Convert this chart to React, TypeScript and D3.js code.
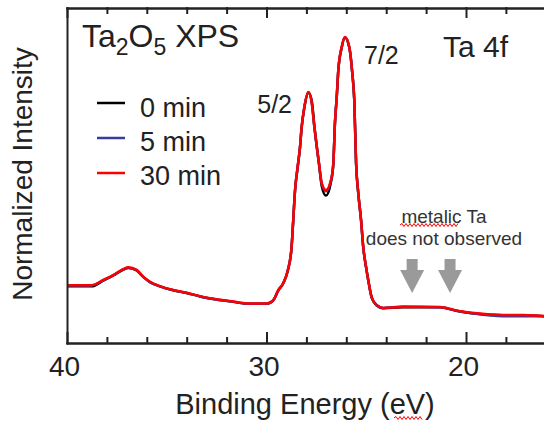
import React, { useEffect, useRef } from "react";
import * as d3 from "d3";

// binding energy (eV) of each sample point
const energy = [
  40.0, 39.76, 38.76, 38.18, 37.68, 37.26, 36.93, 36.51, 36.18, 35.84, 35.34,
  34.67, 34.0, 33.33, 32.5, 31.66, 30.99, 29.99, 29.66, 29.41, 29.16, 28.95,
  28.75, 28.66, 28.57, 28.44, 28.32, 28.24, 28.11, 27.9, 27.73, 27.6, 27.48,
  27.37, 27.23, 27.02, 26.77, 26.65, 26.57, 26.48, 26.4, 26.23, 26.07, 25.85,
  25.7, 25.6, 25.51, 25.4, 25.26, 25.15, 25.01, 24.9, 24.73, 24.48, 24.16,
  23.16, 21.3, 20.55, 19.71, 18.15, 17.14, 16.09, 15.0,
];

const min0 = [
  0.186, 0.186, 0.186, 0.205, 0.222, 0.238, 0.247, 0.238, 0.217, 0.2, 0.186,
  0.173, 0.164, 0.153, 0.143, 0.135, 0.129, 0.129, 0.14, 0.172, 0.196, 0.233,
  0.308, 0.402, 0.5, 0.576, 0.642, 0.706, 0.77, 0.822, 0.795, 0.712, 0.646,
  0.588, 0.515, 0.484, 0.528, 0.588, 0.72, 0.806, 0.895, 0.97, 1.003, 0.97,
  0.886, 0.797, 0.59, 0.492, 0.403, 0.314, 0.249, 0.206, 0.15, 0.124, 0.114,
  0.117, 0.117, 0.107, 0.098, 0.091, 0.091, 0.088, 0.086,
];

const min5 = [
  0.189, 0.189, 0.189, 0.206, 0.222, 0.239, 0.246, 0.239, 0.217, 0.2, 0.186,
  0.173, 0.164, 0.153, 0.143, 0.135, 0.129, 0.129, 0.14, 0.173, 0.196, 0.234,
  0.309, 0.403, 0.501, 0.577, 0.643, 0.708, 0.771, 0.823, 0.787, 0.708, 0.643,
  0.59, 0.522, 0.498, 0.533, 0.59, 0.721, 0.807, 0.896, 0.971, 1.004, 0.971,
  0.886, 0.797, 0.59, 0.492, 0.403, 0.314, 0.249, 0.206, 0.15, 0.124, 0.115,
  0.12, 0.117, 0.107, 0.098, 0.088, 0.088, 0.088, 0.086,
];

const min30 = [
  0.19, 0.19, 0.19, 0.207, 0.223, 0.24, 0.249, 0.24, 0.218, 0.201, 0.187,
  0.174, 0.165, 0.154, 0.144, 0.136, 0.13, 0.13, 0.141, 0.174, 0.197, 0.235,
  0.31, 0.404, 0.502, 0.578, 0.644, 0.709, 0.772, 0.824, 0.788, 0.709, 0.644,
  0.591, 0.525, 0.502, 0.535, 0.591, 0.722, 0.808, 0.897, 0.972, 1.005, 0.972,
  0.887, 0.798, 0.591, 0.493, 0.404, 0.315, 0.25, 0.207, 0.151, 0.125, 0.115,
  0.118, 0.118, 0.108, 0.099, 0.092, 0.092, 0.089, 0.087,
];

const series = [
  { label: "0 min", values: min0, color: "#000000" },
  { label: "5 min", values: min5, color: "#3b3b9e" },
  { label: "30 min", values: min30, color: "#ff0000" },
];

const majorTicks = [40, 30, 20];
const minorTicks = [38, 36, 34, 32, 28, 26, 24, 22, 18, 16];
const arrowEnergies = [22.7, 20.8];

const FONT = "'Liberation Sans', Arial, Helvetica, sans-serif";
const INK = "#222";

function wavy(x0: number, x1: number, yy: number) {
  let d = `M${x0},${yy}`;
  let up = true;
  for (let xx = x0 + 2; xx <= x1; xx += 2) {
    d += ` L${xx},${yy + (up ? -1.5 : 1.5)}`;
    up = !up;
  }
  return d;
}

export default function App() {
  const bottomRef = useRef<SVGGElement>(null);
  const topRef = useRef<SVGGElement>(null);
  const leftRef = useRef<SVGGElement>(null);

  const x = d3.scaleLinear().domain([40, 15]).range([67, 67 + 25 * 19.95]);
  const y = d3.scaleLinear().domain([0, 1.1]).range([343, 8]);

  const lineGen = d3
    .line<number>()
    .x((d, i) => x(energy[i]))
    .y((d) => y(d))
    .curve(d3.curveMonotoneX);

  useEffect(() => {
    const bottom = d3.select(bottomRef.current);
    bottom.selectAll("*").remove();
    bottom
      .append("g")
      .call(
        d3
          .axisBottom(x)
          .tickValues(minorTicks)
          .tickSizeInner(-5)
          .tickSizeOuter(0)
          .tickFormat(() => "")
      );
    const major = bottom
      .append("g")
      .call(
        d3
          .axisBottom(x)
          .tickValues(majorTicks)
          .tickSizeInner(-10)
          .tickSizeOuter(0)
          .tickPadding(13)
          .tickFormat(d3.format("d"))
      );
    major
      .selectAll("text")
      .attr("font-size", 28)
      .attr("font-family", FONT)
      .attr("fill", INK)
      .attr("dx", -3);

    const topAxis = d3.select(topRef.current);
    topAxis.selectAll("*").remove();
    topAxis
      .append("g")
      .call(
        d3
          .axisTop(x)
          .tickValues(minorTicks)
          .tickSizeInner(-5)
          .tickSizeOuter(0)
          .tickFormat(() => "")
      );
    topAxis
      .append("g")
      .call(
        d3
          .axisTop(x)
          .tickValues(majorTicks)
          .tickSizeInner(-9)
          .tickSizeOuter(0)
          .tickFormat(() => "")
      );

    const leftAxis = d3.select(leftRef.current);
    leftAxis.selectAll("*").remove();
    leftAxis
      .append("g")
      .call(d3.axisLeft(y).tickValues([]).tickSizeOuter(0));

    [bottom, topAxis, leftAxis].forEach((g) => {
      g.selectAll("path, line")
        .attr("stroke", INK)
        .attr("stroke-width", 2)
        .attr("stroke-linecap", "square");
    });
  }, []);

  return (
    <div style={{ position: "absolute", left: 0, top: 0 }}>
      <svg width={544} height={422} style={{ display: "block", background: "#fff" }}>
        {series.map((s) => (
          <path
            key={s.label}
            d={lineGen(s.values) || ""}
            fill="none"
            stroke={s.color}
            strokeWidth={2.5}
          />
        ))}

        <g ref={bottomRef} transform="translate(0,343)" />
        <g ref={topRef} transform="translate(0,8)" />
        <g ref={leftRef} transform="translate(67,0)" />

        {arrowEnergies.map((e) => {
          const cx = x(e);
          return (
            <polygon
              key={e}
              points={`${cx - 5.5},259 ${cx + 5.5},259 ${cx + 5.5},270 ${cx + 12},270 ${cx},293 ${cx - 12},270 ${cx - 5.5},270`}
              fill="#9a9a9a"
            />
          );
        })}

        <g fontFamily={FONT} fill={INK}>
          <text x={82} y={47} fontSize={32}>
            Ta
            <tspan fontSize={23} dy={8}>2</tspan>
            <tspan fontSize={32} dy={-8}>O</tspan>
            <tspan fontSize={23} dy={8}>5</tspan>
            <tspan fontSize={32} dy={-8}>{" XPS"}</tspan>
          </text>
          <text x={443} y={57} fontSize={30}>Ta 4f</text>
          <text x={292} y={113} fontSize={25} textAnchor="end">5/2</text>
          <text x={364} y={64} fontSize={25}>7/2</text>

          {series.map((s, i) => (
            <g key={s.label}>
              <line x1={97} x2={125} y1={103 + i * 35} y2={103 + i * 35} stroke={s.color} strokeWidth={2.5} />
              <text x={140} y={117 + i * 34} fontSize={27}>{s.label}</text>
            </g>
          ))}

          <text x={444} y={223} fontSize={19} textAnchor="middle" fill="#333">metalic Ta</text>
          <text x={444} y={245} fontSize={19} textAnchor="middle" fill="#333">does not observed</text>

          <text x={305} y={414} fontSize={29} textAnchor="middle">Binding Energy (eV)</text>
          <text transform="translate(32,174) rotate(-90)" fontSize={28} textAnchor="middle">
            Normalized Intensity
          </text>
        </g>

        <path d={wavy(400, 458, 225)} fill="none" stroke="#ff0000" strokeWidth={1} />
        <path d={wavy(394, 422, 418)} fill="none" stroke="#ff0000" strokeWidth={1} />
      </svg>
    </div>
  );
}
